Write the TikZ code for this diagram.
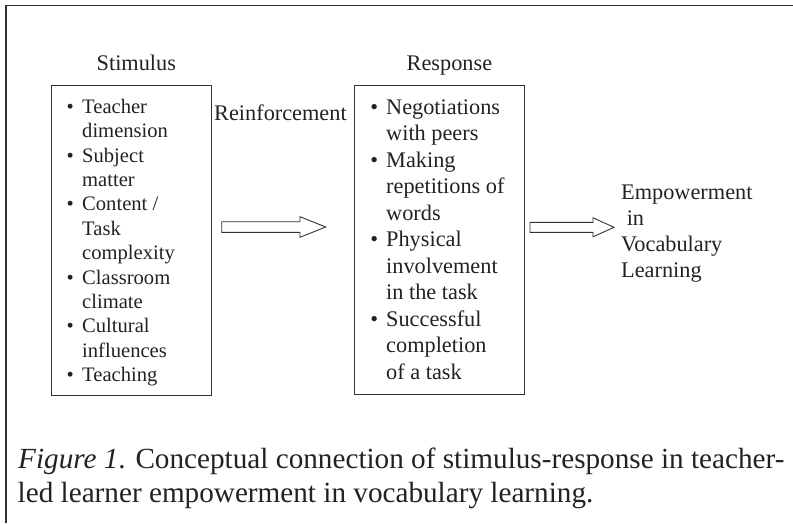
\documentclass[tikz,border=0pt]{standalone}
\usepackage{fontspec}
\setmainfont{Liberation Serif}
\definecolor{ink}{HTML}{222222}
\definecolor{frame}{HTML}{333333}
\tikzset{
  big/.style={anchor=base west, inner sep=0pt, text=ink, font=\fontsize{22.3}{26}\selectfont},
  stim/.style={anchor=base west, inner sep=0pt, text=ink, font=\fontsize{20.6}{24}\selectfont},
  captext/.style={anchor=base west, inner sep=0pt, text=ink, font=\fontsize{29.2}{34}\selectfont},
  boxline/.style={draw=frame, line width=1pt},
  blockarrow/.style={draw=frame, line width=0.9pt, fill=white, line join=miter}
}
\newcommand{\sbul}[1]{\makebox[15.6pt][l]{\textbullet}#1}
\newcommand{\rbul}[1]{\makebox[15.9pt][l]{\textbullet}#1}
\begin{document}
\begin{tikzpicture}[x=1pt,y=-1pt]
\useasboundingbox (0,0) rectangle (793,523);
% outer frame (top and left)
\draw[draw=frame, line width=1.3pt] (6,523) -- (6,5.5) -- (793,5.5);
% titles
\node[big] (stimtitle) at (96.5,70) {Stimulus};
\node[big] (resptitle) at (406.5,70) {Response};
\node[big] (reinf) at (214,120) {Reinforcement};
% boxes
\draw[boxline] (51,85) rectangle (211,395);
\draw[boxline] (354,85) rectangle (524,394);
% stimulus items
\node[stim] (s1) at (66.4,113.3) {\sbul{Teacher}};
\node[stim] (s2) at (82,137.7) {dimension};
\node[stim] (s3) at (66.4,162.1) {\sbul{Subject}};
\node[stim] (s4) at (82,186.5) {matter};
\node[stim] (s5) at (66.4,210.9) {\sbul{Content /}};
\node[stim] (s6) at (82,235.3) {Task};
\node[stim] (s7) at (82,259.7) {complexity};
\node[stim] (s8) at (66.4,284.1) {\sbul{Classroom}};
\node[stim] (s9) at (82,308.5) {climate};
\node[stim] (s10) at (66.4,332.9) {\sbul{Cultural}};
\node[stim] (s11) at (82,357.3) {influences};
\node[stim] (s12) at (66.4,381.7) {\sbul{Teaching}};
% response items
\node[big] (r1) at (370.1,114) {\rbul{Negotiations}};
\node[big] (r2) at (386,140.5) {with peers};
\node[big] (r3) at (370.1,167) {\rbul{Making}};
\node[big] (r4) at (386,193.5) {repetitions of};
\node[big] (r5) at (386,220) {words};
\node[big] (r6) at (370.1,246.5) {\rbul{Physical}};
\node[big] (r7) at (386,273) {involvement};
\node[big] (r8) at (386,299.5) {in the task};
\node[big] (r9) at (370.1,326) {\rbul{Successful}};
\node[big] (r10) at (386,352.5) {completion};
\node[big] (r11) at (386,379) {of a task};
% outcome
\node[big] (e1) at (621,199.5) {Empowerment};
\node[big] (e2) at (621,225.8) {\ in};
\node[big] (e3) at (621,251.6) {Vocabulary};
\node[big] (e4) at (621,277.4) {Learning};
% block arrows
\coordinate (aTail) at (221.7,227);
\coordinate (aTip) at (325.7,227);
\draw[blockarrow] (221.7,221.7) -- (300,221.7) -- (300,216.7) -- (aTip)
  -- (300,237.3) -- (300,232.3) -- (221.7,232.3) -- cycle;
\coordinate (bTail) at (530,227.3);
\coordinate (bTip) at (614,227.3);
\draw[blockarrow] (530,222.3) -- (593,222.3) -- (593,217.8) -- (bTip)
  -- (593,236.8) -- (593,232.3) -- (530,232.3) -- cycle;
% caption
\node[captext] (cap1) at (18,468) {\textit{Figure 1}. Conceptual connection of stimulus-response in teacher-};
\node[captext] (cap2) at (17.5,502.5) {led learner empowerment in vocabulary learning.};
\end{tikzpicture}
\end{document}
